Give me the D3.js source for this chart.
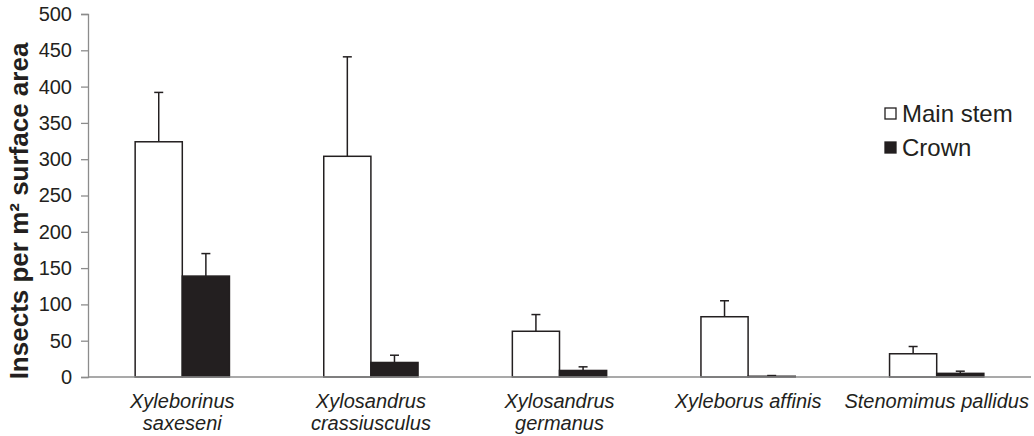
<!DOCTYPE html>
<html><head><meta charset="utf-8">
<script src="https://cdn.jsdelivr.net/npm/d3@7"></script>
<style>body{margin:0;background:#fff}svg{display:block;font-family:"Liberation Sans",Arial,sans-serif}</style>
</head><body>
<svg id="c" width="1034" height="436"></svg>
<script>
const categories = [["Xyleborinus","saxeseni"],["Xylosandrus","crassiusculus"],["Xylosandrus","germanus"],["Xyleborus affinis"],["Stenomimus pallidus"]];
const seriesNames = ["Main stem","Crown"];
const mainStem = [324, 304, 63, 83, 32];
const mainStemErr = [68, 137, 23, 22, 10];
const crown = [139, 20, 9, 1, 5];
const crownErr = [31, 10, 5, 1, 3];
const yTicks = [0,50,100,150,200,250,300,350,400,450,500];

(function(){
const svg = d3.select("#c");
const ink = "#231f20";
const mLeft = 88, mRight = 1031, mTop = 14, mBottom = 377;
const x = d3.scaleBand().domain(d3.range(categories.length)).range([mLeft,mRight]).padding(0);
const bw = x.bandwidth()/4;
const y = d3.scaleLinear().domain([0,500]).range([mBottom,mTop]);

const yAxis = d3.axisLeft(y).tickValues(yTicks).tickSize(7).tickPadding(9);
const gy = svg.append("g").attr("transform",`translate(${mLeft},0)`).call(yAxis);
gy.select(".domain").attr("stroke","#8c8c8c").attr("stroke-width",1.3);
gy.selectAll(".tick line").attr("stroke","#8c8c8c").attr("stroke-width",1.3);
gy.selectAll(".tick text").attr("font-size",20).attr("fill",ink).attr("font-family","Liberation Sans, Arial, sans-serif");

const series = [
  {name:seriesNames[0], vals:mainStem, errs:mainStemErr, fill:"#fff", off:1},
  {name:seriesNames[1], vals:crown, errs:crownErr, fill:ink, off:2}
];
series.forEach(s=>{
  const g = svg.append("g");
  s.vals.forEach((v,i)=>{
    const x0 = x(i) + bw*s.off;
    const cx = x0 + bw/2;
    const ye = y(v + s.errs[i]);
    g.append("line").attr("x1",cx).attr("x2",cx).attr("y1",y(v)).attr("y2",ye).attr("stroke",ink).attr("stroke-width",1.5);
    g.append("line").attr("x1",cx-4.5).attr("x2",cx+4.5).attr("y1",ye).attr("y2",ye).attr("stroke",ink).attr("stroke-width",1.5);
    g.append("rect").attr("x",x0).attr("width",bw).attr("y",y(v)).attr("height",mBottom-y(v))
      .attr("fill",s.fill).attr("stroke",ink).attr("stroke-width",1.5);
  });
});

svg.append("line").attr("x1",mLeft).attr("x2",mRight).attr("y1",mBottom).attr("y2",mBottom).attr("stroke","#8c8c8c").attr("stroke-width",1.3);

categories.forEach((lines,i)=>{
  const cx = x(i)+x.bandwidth()/2;
  const t = svg.append("text").attr("x",cx).attr("y",408)
    .attr("text-anchor","middle").attr("font-size",20).attr("font-style","italic").attr("fill",ink);
  lines.forEach((l,j)=>t.append("tspan").attr("x",cx).attr("dy", j===0?0:22).text(l));
});

svg.append("text").attr("transform",`translate(28,211) rotate(-90)`)
  .attr("text-anchor","middle").attr("font-size",26).attr("font-weight","bold").attr("fill",ink)
  .text("Insects per m² surface area");

const lg = svg.append("g");
series.forEach((s,i)=>{
  const yy = 114 + i*34;
  lg.append("rect").attr("x",885).attr("y",yy-6).attr("width",11).attr("height",11)
    .attr("fill",s.fill).attr("stroke",ink).attr("stroke-width",1.3);
  lg.append("text").attr("x",902).attr("y",yy+8).attr("font-size",24).attr("fill",ink).text(s.name);
});
})();
</script>
</body></html>
